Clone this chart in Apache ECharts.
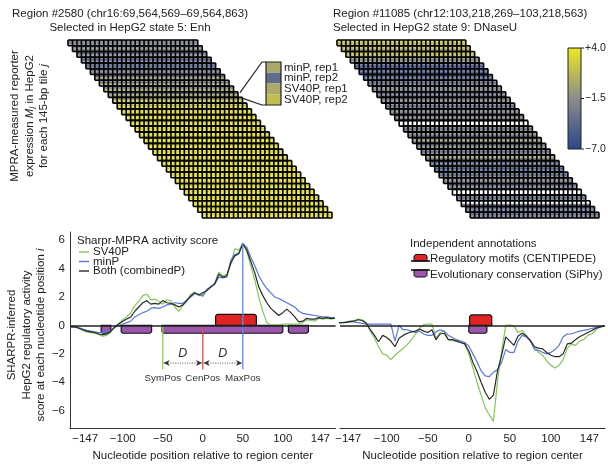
<!DOCTYPE html>
<html><head><meta charset="utf-8">
<script src="https://cdn.jsdelivr.net/npm/echarts@6/dist/echarts.min.js"></script>
<style>html,body{margin:0;padding:0;background:#fff}#c{width:608px;height:467px}</style>
</head><body><div id="c"></div>
<script>
// ---------------- DATA ----------------
const positions = [-165,-160,-155,-150,-145,-140,-135,-130,-125,-120,-115,-110,-105,-100,-95,-90,-85,-80,-75,-70,-65,-60,-55,-50,-45,-40,-35,-30,-25,-20,-15,-10,-5,0,5,10,15,20,25,30,35,40,45,50,55,60,65,70,75,80,85,90,95,100,105,110,115,120,125,130,135,140,145,150,155,160,165];

const leftSV40P = [-0.1,-0.1,-0.2,-0.35,-0.45,-0.5,-0.55,-0.65,-0.75,-0.7,-0.45,-0.1,0.15,0.4,0.6,0.9,1.4,1.7,2.1,2.2,1.8,1.85,1.7,1.5,1.8,1.75,1.3,1.0,1.4,1.7,2.2,2.35,2.1,2.2,2.45,2.7,3.0,3.75,3.5,3.6,4.3,5.4,5.3,5.8,5.2,4.2,3.2,2.0,1.0,0.2,0.05,0.05,0.05,0.1,0.1,0.1,0.1,0.1,0.2,0.4,0.35,0.3,0.5,0.45,0.5,0.45,0.5];
const leftMinP = [-0.1,-0.1,-0.15,-0.25,-0.35,-0.4,-0.45,-0.5,-0.5,-0.45,-0.35,-0.15,0.0,0.1,0.2,0.3,0.6,0.75,0.9,1.0,1.2,1.25,1.2,1.3,1.45,1.5,1.6,1.55,1.55,1.8,2.0,2.25,2.2,2.05,2.55,2.75,2.9,3.4,3.35,3.4,4.6,5.0,5.1,5.75,5.5,4.8,4.2,3.5,3.0,2.6,2.3,2.0,1.9,1.75,1.6,1.45,1.3,1.0,0.85,0.8,0.75,0.7,0.65,0.6,0.6,0.55,0.55];
const leftBoth = [-0.1,-0.1,-0.2,-0.3,-0.4,-0.45,-0.5,-0.6,-0.65,-0.6,-0.4,-0.1,0.1,0.3,0.45,0.6,1.0,1.3,1.6,1.75,1.5,1.55,1.5,1.75,1.6,1.55,1.45,1.3,1.45,1.75,2.1,2.3,2.15,2.3,2.45,2.7,2.95,3.6,3.4,3.5,4.4,4.9,5.05,5.75,5.3,4.5,3.7,2.7,2.1,1.6,1.2,0.95,0.7,0.9,1.15,0.9,0.6,0.25,0.3,0.5,0.45,0.45,0.55,0.5,0.55,0.5,0.5];

const rightSV40P = [0.2,0.2,0.2,0.25,0.3,0.35,0.45,0.4,0.2,-0.4,-0.9,-1.5,-2.0,-2.1,-2.4,-2.1,-1.85,-1.6,-1.35,-1.0,-0.6,-0.2,0.05,0.1,0.1,-0.9,-0.5,-0.4,-1.0,-1.05,-1.1,-1.2,-1.3,-2.0,-3.0,-4.0,-4.9,-5.8,-6.3,-6.75,-3.9,-1.8,0.0,0.05,-0.05,-0.5,-0.35,-0.7,-1.1,-1.5,-1.9,-2.1,-2.5,-2.8,-3.0,-2.8,-2.4,-1.6,-1.3,-1.4,-1.1,-1.0,-0.7,-0.6,-0.3,-0.1,-0.05];
const rightMinP = [0.2,0.2,0.2,0.2,0.25,0.25,0.2,0.15,0.1,0.1,0.1,0.1,0.1,0.1,0.1,-1.1,0.0,-0.3,-0.3,-0.4,-0.5,-0.4,-0.6,-0.7,-0.7,-0.45,-0.3,-0.4,-0.7,-0.85,-1.0,-1.1,-1.2,-1.45,-2.0,-2.55,-3.2,-3.55,-3.6,-3.3,-3.1,-2.6,-1.7,-1.9,-1.9,-1.1,-0.7,-0.8,-1.1,-1.7,-1.75,-1.9,-2.0,-1.9,-1.7,-1.4,-0.8,-0.6,-0.6,-0.5,-0.4,-0.35,-0.3,-0.2,-0.15,-0.1,-0.05];
const rightBoth = [0.2,0.2,0.2,0.22,0.27,0.3,0.4,0.35,0.15,-0.3,-0.7,-1.15,-0.7,-0.85,-1.1,-1.5,-0.9,-0.7,-0.55,-0.45,-0.4,-0.25,-0.4,-0.5,-0.3,-1.0,-0.6,-0.55,-1.0,-1.0,-1.1,-1.2,-1.3,-1.8,-2.6,-3.25,-4.0,-4.7,-5.2,-4.9,-3.2,-2.1,-0.8,-1.1,-1.4,-0.75,-0.55,-0.75,-1.05,-1.5,-1.6,-1.65,-1.9,-2.1,-2.2,-2.2,-2.0,-1.3,-1.25,-1.0,-0.8,-0.65,-0.5,-0.35,-0.2,-0.1,-0.05];

const xTicks = [-147,-100,-50,0,50,100,147];
const yTicks = [-6,-4,-2,0,2,4,6];

const leftMotifs = [[16,67]];
const leftConservation = [[-127,-115],[-102,-64],[-51,100],[107,132]];
const rightMotifs = [[1,28]];
const rightConservation = [[0,22]];

const markerNames = ['SymPos','CenPos','MaxPos'];
const markerPos = [-50,0,50];

// MPRA tile expression, 31 tiles per region, 4 measurements each
const leftMinPRep1 = [-3,-2.5,-3,-4.5,-5,-4,-2,-1,0,0.2,1.5,2.5,3,3.2,3.5,3.3,3,3.4,3.6,3.2,3,3.5,3.3,3.1,3.4,3.6,3.2,3,3.3,3.5,3.2];
const leftMinPRep2 = [-4,-3.5,-4,-5,-5.5,-5,-4,-4,-4,-4,0,1.5,2.5,2.8,3,2.7,3,2.9,3.1,2.8,3,3.2,2.9,3.1,3,2.8,3.2,3,2.9,3.1,3];
const leftSV40Rep1 = [-1.5,-1.5,-2,-3,-3.5,-2,-0.5,0,0.5,0.3,2,3,3.5,3.6,3.4,3.7,3.5,3.8,3.6,3.4,3.7,3.5,3.6,3.8,3.5,3.4,3.6,3.7,3.5,3.6,3.4];
const leftSV40Rep2 = [-1,-1,-1.5,-2.5,-3,-1.5,0,0.5,1,1.4,2.5,3,3.5,3.8,3.6,3.5,3.9,3.7,3.6,3.8,3.5,3.7,3.9,3.6,3.8,3.5,3.7,3.6,3.8,3.7,3.6];
const rightMinPRep1 = [1.5,0.5,1.5,-1,-4.5,-5,-4,-3,-2,-3,-2,-3,-2,-1.5,-2,-3,0.5,-1.5,-2,-3,-2.5,-3,-4.5,-3,-2,-3,-2.5,-3,null,-3.5,-4];
const rightMinPRep2 = [2,1.5,2,-1.5,-5,-5.5,-4.5,-3.5,-2.5,-3.5,-1.5,-2.5,-2.5,-2.5,null,-2.5,-2,0,-2.5,-3.5,0.5,-3.5,-5,-3.5,-2.5,-3.5,null,-3.5,null,-3,-3.5];
const rightSV40Rep1 = [1,0,1,-2,-5.5,-4.5,-3.5,-2.5,-1.5,-2.5,-2.5,-3.5,-1.5,-2,null,-3,-2.5,-2,-1.5,-2.5,-2,-3,-4,-3,-1.5,-2.5,null,-2.5,-3,-3.5,-3];
const rightSV40Rep2 = [2,1,1.5,-1,-5,-5,-4,-3,-2.5,-3,-2,-3,-2,-1.5,null,-2,-1.5,-1.5,-2,-3,-2.5,-2.5,-4.5,-2.5,-2,-3,null,-3,-2.5,-4,-3.5];
const repNames = ['minP, rep1','minP, rep2','SV40P, rep1','SV40P, rep2'];
const colorbarTicks = [4.0,-1.5,-7.0];
const calloutTile = 9;

// ---------------- STYLE ----------------
const FONT = '"Liberation Sans", Arial, Helvetica, sans-serif';
const TXT = '#222';
const TILE_CELLS = 29;
const C_GREEN = '#86c55a', C_BLUE = '#5a78d4', C_BLACK = '#2a2a2a';
const C_RED = '#e02424', C_PURPLE = '#9b57ab';
const markerColors = ['#9cc35c','#c65353','#6088d8'];
const stops = [[-7,[40,70,140]],[-1.5,[140,140,140]],[4,[238,232,30]]];
function colorOf(v){
  if (v <= stops[0][0]) return 'rgb('+stops[0][1].join(',')+')';
  for (let i=0;i<stops.length-1;i++){
    const a=stops[i], b=stops[i+1];
    if (v<=b[0]){ const t=(v-a[0])/(b[0]-a[0]);
      return 'rgb('+[0,1,2].map(k=>Math.round(a[1][k]+t*(b[1][k]-a[1][k]))).join(',')+')'; }
  }
  return 'rgb('+stops[2][1].join(',')+')';
}
function heatData(reps){
  const out=[];
  for (let t=0;t<reps[0].length;t++) for (let r=0;r<reps.length;r++){
    const v=reps[r][t]; out.push([t, r, v==null?0:v, v==null?1:0]);
  }
  return out;
}
const nReps = 4;
function heatRender(params, api){
  const t=api.value(0), r=api.value(1), v=api.value(2), miss=api.value(3);
  const p0=api.coord([t, t + r/nReps]), p1=api.coord([t+TILE_CELLS, t+(r+1)/nReps]);
  return {type:'rect', shape:{x:p0[0], y:p0[1], width:p1[0]-p0[0], height:p1[1]-p0[1]},
    style:{fill: miss ? '#ffffff' : colorOf(v)}};
}
function gridRender(params, api){
  const t=api.value(0); const ch=[];
  const st={stroke:'#000', lineWidth:1.6};
  for (const yy of [t, t+1]){ const a=api.coord([t,yy]), b=api.coord([t+TILE_CELLS,yy]);
    ch.push({type:'line', shape:{x1:a[0],y1:a[1],x2:b[0],y2:b[1]}, style:st}); }
  for (let k=0;k<=TILE_CELLS;k++){ const a=api.coord([t+k,t]), b=api.coord([t+k,t+1]);
    ch.push({type:'line', shape:{x1:a[0],y1:a[1],x2:b[0],y2:b[1]}, style:st}); }
  return {type:'group', children:ch};
}
function tileIdx(arr){ return arr.map((_,i)=>[i]); }
function boxRender(dir, h, color){ return function(params, api){
  const s=api.value(0), e=api.value(1);
  const a=api.coord([s,0]), b=api.coord([e,dir*h]);
  const x0=a[0], x1=b[0], y0=a[1], y1=b[1], bv=1.6, sg=dir>0?1:-1;
  return {type:'polygon', shape:{points:[[x0,y0],[x0,y1+sg*bv],[x0+bv,y1],[x1-bv,y1],[x1,y1+sg*bv],[x1,y0]]},
    style:{fill:color, stroke:'#111', lineWidth:1.2}};
};}
const zip = (xs, ys) => xs.map((x,i)=>[x, ys[i]]);
const peak = Math.max(...leftSV40P, ...leftMinP, ...leftBoth);
const markerData = markerPos.map((p,i)=>[p, markerNames[i]==='MaxPos' ? peak : 0]);
const arrowData = markerPos.slice(0,-1).map((p,i)=>[p, markerPos[i+1]]);
const MARK_BOTTOM=-3.1, LABEL_Y=-3.75, ARROW_Y=-2.65, D_Y=-1.95;

function markerRender(params, api){
  const x=api.value(0), top=api.value(1), i=params.dataIndex;
  const p0=api.coord([x,top]), p1=api.coord([x,MARK_BOTTOM]), pl=api.coord([x,LABEL_Y]);
  return {type:'group', children:[
    {type:'line', shape:{x1:p0[0],y1:p0[1],x2:p1[0],y2:p1[1]}, style:{stroke:markerColors[i], lineWidth:1.3}},
    {type:'text', x:pl[0], y:pl[1], style:{text:markerNames[i], align:'center', verticalAlign:'middle', fontSize:9.8, fontFamily:FONT, fill:'#333'}}
  ]};
}
function arrowRender(params, api){
  const x0=api.value(0), x1=api.value(1);
  const a=api.coord([x0,ARROW_Y]), b=api.coord([x1,ARROW_Y]), m=api.coord([(x0+x1)/2, D_Y]);
  const y=a[1]; const hc='#333';
  return {type:'group', children:[
    {type:'line', shape:{x1:a[0]+5,y1:y,x2:b[0]-5,y2:y}, style:{stroke:'#666', lineWidth:1, lineDash:[1.2,1.2]}},
    {type:'polygon', shape:{points:[[a[0]+0.5,y],[a[0]+7,y-3],[a[0]+5,y],[a[0]+7,y+3]]}, style:{fill:hc}},
    {type:'polygon', shape:{points:[[b[0]-0.5,y],[b[0]-7,y-3],[b[0]-5,y],[b[0]-7,y+3]]}, style:{fill:hc}},
    {type:'text', x:m[0], y:m[1], style:{text:'D', align:'center', verticalAlign:'middle', fontSize:12.5, fontStyle:'italic', fontFamily:FONT, fill:'#333'}}
  ]};
}
const minusFmt = v => String(v).replace('-', '\u2212');

const plotXAxis = (gi, min, max) => ({
  type:'value', gridIndex:gi, min:min, max:max,
  axisLine:{show:true, onZero:false, lineStyle:{color:'#333', width:1}}, axisTick:{show:false}, splitLine:{show:false},
  axisLabel:{customValues:xTicks, formatter:minusFmt, fontSize:11.5, color:TXT, fontFamily:FONT, margin:5},
  name:'Nucleotide position relative to region center', nameLocation:'middle', nameGap:22,
  nameTextStyle:{fontSize:11.5, color:TXT, fontFamily:FONT}
});
const Y_MIN=-7.22, Y_MAX=6.58;

const lineSeries = (name, data, color, gi, extra) => Object.assign({
  type:'line', name:name, xAxisIndex:gi, yAxisIndex:gi, data:data, symbol:'none', showSymbol:false,
  lineStyle:{color:color, width:1.2}, itemStyle:{color:color}, z:3, silent:true, animation:false
}, extra||{});
const baseLine = {markLine:{silent:true, symbol:'none', label:{show:false}, data:[{yAxis:0}], lineStyle:{color:'#222', width:1.5, type:'solid'}}};

const option = {
  animation:false,
  textStyle:{fontFamily:FONT},
  grid:[
    {left:68, top:40, width:264, height:178, outerBoundsMode:'none'},
    {left:337, top:40, width:262, height:178, outerBoundsMode:'none'},
    {left:70, top:232, width:265.6, height:196, outerBoundsMode:'none'},
    {left:340, top:232, width:265, height:196, outerBoundsMode:'none'}
  ],
  xAxis:[
    {type:'value', gridIndex:0, min:0, max:TILE_CELLS+30, show:false},
    {type:'value', gridIndex:1, min:0, max:TILE_CELLS+30, show:false},
    plotXAxis(2,-166,166),
    plotXAxis(3,-157,166)
  ],
  yAxis:[
    {type:'value', gridIndex:0, min:0, max:31, inverse:true, show:false},
    {type:'value', gridIndex:1, min:0, max:31, inverse:true, show:false},
    {type:'value', gridIndex:2, min:Y_MIN, max:Y_MAX, splitLine:{show:false}, axisTick:{show:false},
      axisLine:{show:true, onZero:false, lineStyle:{color:'#333', width:1}},
      axisLabel:{customValues:yTicks, formatter:minusFmt, fontSize:11.5, color:TXT, fontFamily:FONT, margin:5}},
    {type:'value', gridIndex:3, min:Y_MIN, max:Y_MAX, show:false}
  ],
  series:[
    {type:'custom', xAxisIndex:0, yAxisIndex:0, data:heatData([leftMinPRep1,leftMinPRep2,leftSV40Rep1,leftSV40Rep2]), renderItem:heatRender, silent:true, z:1},
    {type:'custom', xAxisIndex:0, yAxisIndex:0, data:tileIdx(leftMinPRep1), renderItem:gridRender, silent:true, z:2},
    {type:'custom', xAxisIndex:1, yAxisIndex:1, data:heatData([rightMinPRep1,rightMinPRep2,rightSV40Rep1,rightSV40Rep2]), renderItem:heatRender, silent:true, z:1},
    {type:'custom', xAxisIndex:1, yAxisIndex:1, data:tileIdx(rightMinPRep1), renderItem:gridRender, silent:true, z:2},

    {type:'custom', name:'Evolutionary conservation (SiPhy)', xAxisIndex:2, yAxisIndex:2, data:leftConservation, renderItem:boxRender(-1,0.55,C_PURPLE), silent:true, z:1},
    {type:'custom', name:'Regulatory motifs (CENTIPEDE)', xAxisIndex:2, yAxisIndex:2, data:leftMotifs, renderItem:boxRender(1,0.78,C_RED), silent:true, z:1},
    lineSeries('SV40P', zip(positions,leftSV40P), C_GREEN, 2),
    lineSeries('minP', zip(positions,leftMinP), C_BLUE, 2),
    lineSeries('Both (combinedP)', zip(positions,leftBoth), C_BLACK, 2, baseLine),
    {type:'custom', xAxisIndex:2, yAxisIndex:2, data:markerData, renderItem:markerRender, silent:true, z:4},
    {type:'custom', xAxisIndex:2, yAxisIndex:2, data:arrowData, renderItem:arrowRender, silent:true, z:4},

    {type:'custom', xAxisIndex:3, yAxisIndex:3, data:rightConservation, renderItem:boxRender(-1,0.55,C_PURPLE), silent:true, z:1},
    {type:'custom', xAxisIndex:3, yAxisIndex:3, data:rightMotifs, renderItem:boxRender(1,0.74,C_RED), silent:true, z:1},
    lineSeries('SV40P', zip(positions,rightSV40P), C_GREEN, 3),
    lineSeries('minP', zip(positions,rightMinP), C_BLUE, 3),
    lineSeries('Both (combinedP)', zip(positions,rightBoth), C_BLACK, 3, baseLine)
  ]
};

const chart = echarts.init(document.getElementById('c'), null, {renderer:'canvas'});
chart.setOption(option);

// ---------------- decorations ----------------
const richIt = {it:{fontStyle:'italic', fontSize:11.5, fontFamily:FONT, fill:TXT}, sub:{fontStyle:'italic', fontSize:8, fontFamily:FONT, fill:TXT, padding:[5,0,0,0]}};
const g = [];
g.push({type:'text', x:130, y:21, style:{text:'Region #2580 (chr16:69,564,569\u201369,564,863)\nSelected in HepG2 state 5: Enh', align:'center', verticalAlign:'middle', lineHeight:14, fontSize:11.5, fontFamily:FONT, fill:TXT}});
g.push({type:'text', x:333, y:20.5, style:{text:'Region #11085 (chr12:103,218,269\u2013103,218,563)\nSelected in HepG2 state 9: DNaseU', align:'left', verticalAlign:'middle', lineHeight:14, fontSize:11.5, fontFamily:FONT, fill:TXT}});
g.push({type:'text', x:29.5, y:116, rotation:Math.PI/2, style:{text:'MPRA-measured reporter\nexpression {it|M}{sub|j} in HepG2\nfor each 145-bp tile {it|j}', rich:richIt, align:'center', verticalAlign:'middle', lineHeight:14.5, fontSize:11.5, fontFamily:FONT, fill:TXT}});
g.push({type:'text', x:26.5, y:335, rotation:Math.PI/2, style:{text:'SHARPR-inferred\nHepG2 regulatory activity\nscore at each nucleotide position {it|i}', rich:richIt, align:'center', verticalAlign:'middle', lineHeight:14.5, fontSize:11.5, fontFamily:FONT, fill:TXT}});

// line legend
g.push({type:'text', x:77, y:241, style:{text:'Sharpr-MPRA activity score', align:'left', verticalAlign:'middle', fontSize:11.5, fontFamily:FONT, fill:TXT}});
[['SV40P',C_GREEN],['minP',C_BLUE],['Both (combinedP)',C_BLACK]].forEach((it,i)=>{
  const y=252+i*9.5;
  g.push({type:'line', shape:{x1:79,y1:y,x2:89,y2:y}, style:{stroke:it[1], lineWidth:1.4}});
  g.push({type:'text', x:93, y:y, style:{text:it[0], align:'left', verticalAlign:'middle', fontSize:11.5, fontFamily:FONT, fill:TXT}});
});
// annotation legend
g.push({type:'text', x:410, y:244, style:{text:'Independent annotations', align:'left', verticalAlign:'middle', fontSize:11.5, fontFamily:FONT, fill:TXT}});
g.push({type:'polygon', shape:{points:[[414,261],[414,256],[415.5,254.5],[425.5,254.5],[427,256],[427,261]]}, style:{fill:C_RED, stroke:'#111', lineWidth:1}});
g.push({type:'line', shape:{x1:411,y1:261,x2:430,y2:261}, style:{stroke:'#111', lineWidth:1.6}});
g.push({type:'text', x:430, y:259, style:{text:'Regulatory motifs (CENTIPEDE)', align:'left', verticalAlign:'middle', fontSize:11.5, fontFamily:FONT, fill:TXT}});
g.push({type:'polygon', shape:{points:[[414,270],[414,275.5],[415.5,277],[425.5,277],[427,275.5],[427,270]]}, style:{fill:C_PURPLE, stroke:'#111', lineWidth:1}});
g.push({type:'line', shape:{x1:411,y1:270,x2:430,y2:270}, style:{stroke:'#111', lineWidth:1.6}});
g.push({type:'text', x:430, y:275, style:{text:'Evolutionary conservation (SiPhy)', align:'left', verticalAlign:'middle', fontSize:11.5, fontFamily:FONT, fill:TXT}});

// colorbar
const cbX=568, cbY=48, cbW=13, cbH=101;
const cMax=colorbarTicks[0], cMin=colorbarTicks[colorbarTicks.length-1];
g.push({type:'rect', shape:{x:cbX,y:cbY,width:cbW,height:cbH}, style:{fill:new echarts.graphic.LinearGradient(0,0,0,1,
  stops.slice().reverse().map(s=>({offset:(cMax-s[0])/(cMax-cMin), color:colorOf(s[0])}))), stroke:'#222', lineWidth:1}});
colorbarTicks.forEach(v=>{
  const y=cbY+(cMax-v)/(cMax-cMin)*cbH;
  g.push({type:'line', shape:{x1:cbX+cbW,y1:y,x2:cbX+cbW+3,y2:y}, style:{stroke:'#222', lineWidth:1}});
  g.push({type:'text', x:cbX+cbW+4, y:y, style:{text:(v>0?'+':'\u2212')+Math.abs(v).toFixed(1), align:'left', verticalAlign:'middle', fontSize:10.5, fontFamily:FONT, fill:TXT}});
});

// callout of one tile's 4 measurements
const A = chart.convertToPixel({gridIndex:0}, [calloutTile+TILE_CELLS, calloutTile]);
const B = chart.convertToPixel({gridIndex:0}, [calloutTile+TILE_CELLS, calloutTile+1]);
const bx=266, by=62, bw=15, bh=43;
const calloutVals=[leftMinPRep1[calloutTile], leftMinPRep2[calloutTile], leftSV40Rep1[calloutTile], leftSV40Rep2[calloutTile]];
calloutVals.forEach((v,i)=>{
  g.push({type:'rect', shape:{x:bx, y:by+i*bh/4, width:bw, height:bh/4}, style:{fill:colorOf(v)}});
  g.push({type:'text', x:bx+18, y:by+(i+0.5)*bh/4, style:{text:repNames[i], align:'left', verticalAlign:'middle', fontSize:11.5, fontFamily:FONT, fill:TXT}});
});
g.push({type:'rect', shape:{x:bx,y:by,width:bw,height:bh}, style:{fill:'none', stroke:'#222', lineWidth:1.2}});
g.push({type:'polyline', shape:{points:[[A[0]+2,A[1]+1],[bx-4,by],[bx,by]]}, style:{stroke:'#222', lineWidth:1.2, fill:'none'}});
g.push({type:'polyline', shape:{points:[[B[0]+2,B[1]],[bx-4,by+bh],[bx,by+bh]]}, style:{stroke:'#222', lineWidth:1.2, fill:'none'}});

chart.setOption({graphic:{elements:g}});
</script></body></html>
